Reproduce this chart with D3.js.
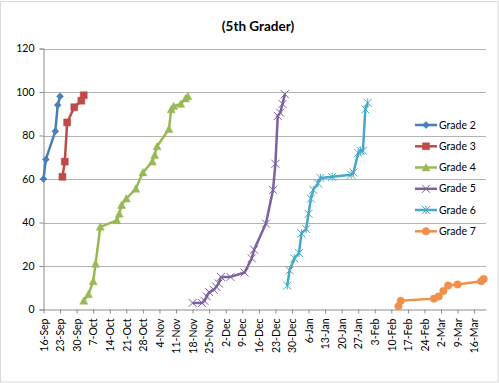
<!DOCTYPE html>
<html>
<head>
<meta charset="utf-8">
<script src="https://cdn.jsdelivr.net/npm/d3@7"></script>
<style>
  html, body { margin: 0; padding: 0; background: #fff; }
  svg { display: block; }
  text { font-family: Lato, "Open Sans", sans-serif; }
</style>
</head>
<body>
<svg id="chart" width="499" height="383"></svg>
<script>
const title = "(5th Grader)";
const seriesNames = ["Grade 2", "Grade 3", "Grade 4", "Grade 5", "Grade 6", "Grade 7"];
const seriesColors = ["#4a7ebb", "#be4b48", "#98b954", "#7d60a0", "#46aac5", "#f0904a"];
const seriesMarkers = ["diamond", "square", "triangle", "x", "star", "circle"];

const grade2Dates = ["2011-09-16","2011-09-17","2011-09-21","2011-09-22","2011-09-23"];
const grade2Values = [60, 69, 82, 94, 98];

const grade3Dates = ["2011-09-24","2011-09-25","2011-09-26","2011-09-29","2011-10-02","2011-10-03"];
const grade3Values = [61, 68, 86, 93, 96, 98.5];

const grade4Dates = ["2011-10-03","2011-10-05","2011-10-07","2011-10-08","2011-10-10","2011-10-17","2011-10-18","2011-10-19","2011-10-21","2011-10-25","2011-10-28","2011-11-01","2011-11-02","2011-11-03","2011-11-08","2011-11-09","2011-11-10","2011-11-13","2011-11-15","2011-11-16"];
const grade4Values = [4, 7, 13, 21, 38, 41, 44, 48, 51, 55.5, 63, 68, 71, 75, 83, 92, 93.5, 94.5, 97, 98];

const grade5Dates = ["2011-11-18","2011-11-22","2011-11-23","2011-11-24","2011-11-25","2011-11-27","2011-11-28","2011-11-29","2011-11-30","2011-12-04","2011-12-10","2011-12-13","2011-12-14","2011-12-19","2011-12-22","2011-12-23","2011-12-24","2011-12-25","2011-12-26","2011-12-27"];
const grade5Values = [3, 3, 4, 6, 8, 9, 10.5, 12, 15, 15, 17, 23.5, 27.5, 39.5, 55, 67, 89, 90.5, 94.5, 99];

const grade6Dates = ["2011-12-28","2011-12-29","2011-12-31","2012-01-02","2012-01-03","2012-01-05","2012-01-06","2012-01-07","2012-01-08","2012-01-10","2012-01-11","2012-01-16","2012-01-24","2012-01-25","2012-01-27","2012-01-28","2012-01-29","2012-01-30","2012-01-31"];
const grade6Values = [11, 18, 23.5, 26, 35, 37, 44, 51, 55, 58, 60.5, 61, 62, 63, 72, 73, 73, 92, 95];

const grade7Dates = ["2012-02-13","2012-02-14","2012-02-28","2012-03-01","2012-03-03","2012-03-05","2012-03-09","2012-03-19","2012-03-20"];
const grade7Values = [1.5, 4, 5, 6, 8.5, 11, 11.5, 13, 14];

const yTicks = [0, 20, 40, 60, 80, 100, 120];
const xTickDates = ["2011-09-16","2011-09-23","2011-09-30","2011-10-07","2011-10-14","2011-10-21","2011-10-28","2011-11-04","2011-11-11","2011-11-18","2011-11-25","2011-12-02","2011-12-09","2011-12-16","2011-12-23","2011-12-30","2012-01-06","2012-01-13","2012-01-20","2012-01-27","2012-02-03","2012-02-10","2012-02-17","2012-02-24","2012-03-02","2012-03-09","2012-03-16"];
const xDomain = ["2011-09-16", "2012-03-21"];

const parse = d3.utcParse("%Y-%m-%d");
const fmt = d3.utcFormat("%-d-%b");

const allDates = [grade2Dates, grade3Dates, grade4Dates, grade5Dates, grade6Dates, grade7Dates];
const allValues = [grade2Values, grade3Values, grade4Values, grade5Values, grade6Values, grade7Values];
const series = seriesNames.map((name, i) => ({
  name, color: seriesColors[i], marker: seriesMarkers[i],
  points: allDates[i].map((d, j) => ({ date: parse(d), value: allValues[i][j] }))
}));

const svg = d3.select("#chart");
const W = 499, H = 383;

// outer border
svg.append("rect").attr("x", 0.5).attr("y", 1.5).attr("width", W - 1.5).attr("height", H - 2.5)
  .attr("fill", "#fff").attr("stroke", "#d9d9d9").attr("stroke-width", 1);

const x = d3.scaleUtc().domain(xDomain.map(parse)).range([43.5, 486]);
const y = d3.scaleLinear().domain([0, 120]).range([309.5, 48.5]);

// gridlines
svg.append("g").selectAll("line").data(yTicks.filter(v => v > 0)).join("line")
  .attr("x1", 43.5).attr("x2", 486)
  .attr("y1", d => Math.round(y(d)) + 0.5).attr("y2", d => Math.round(y(d)) + 0.5)
  .attr("stroke", "#b3b3b3").attr("stroke-width", 1);

// y axis
const yAxis = d3.axisLeft(y).tickValues(yTicks).tickSize(4).tickPadding(5);
const gy = svg.append("g").attr("transform", "translate(43.5,0)").call(yAxis);
gy.select(".domain").attr("stroke", "#8c8c8c");
gy.selectAll(".tick line").attr("stroke", "#8c8c8c");
gy.selectAll(".tick text").attr("font-size", 10.5).attr("fill", "#000")
  .style("font-family", "Lato, sans-serif");

// x axis
const xAxis = d3.axisBottom(x).tickValues(xTickDates.map(parse)).tickFormat(fmt).tickSize(4).tickSizeOuter(0);
const gx = svg.append("g").attr("transform", "translate(0,309.5)").call(xAxis);
gx.select(".domain").attr("stroke", "#8c8c8c");
gx.selectAll(".tick line").attr("stroke", "#8c8c8c");
gx.selectAll(".tick text")
  .attr("font-size", 10.5).attr("fill", "#000")
  .style("font-family", "Lato, sans-serif")
  .attr("text-anchor", "end")
  .attr("transform", "rotate(-90)")
  .attr("x", -9).attr("y", 0).attr("dy", "0.35em");

// markers
function markerPath(type, s) {
  const h = s / 2;
  switch (type) {
    case "diamond": return `M0,${-h}L${h},0L0,${h}L${-h},0Z`;
    case "square": return `M${-h},${-h}H${h}V${h}H${-h}Z`;
    case "triangle": return `M0,${-h}L${h},${h * 0.85}L${-h},${h * 0.85}Z`;
    case "x": return `M${-h},${-h}L${h},${h}M${-h},${h}L${h},${-h}`;
    case "star": return `M${-h},${-h}L${h},${h}M${-h},${h}L${h},${-h}M0,${-h}V${h}`;
    case "circle": return d3.symbol(d3.symbolCircle, s * s * 0.785)();
  }
}
const markerSize = { diamond: 7, square: 7, triangle: 8, x: 8, star: 8, circle: 7.5 };
function drawMarker(g, type, color) {
  const filled = !(type === "x" || type === "star");
  g.append("path").attr("d", markerPath(type, markerSize[type]))
    .attr("fill", filled ? color : "none")
    .attr("stroke", color).attr("stroke-width", filled ? 0.5 : 1);
}

const line = d3.line().x(d => x(d.date)).y(d => y(d.value));
series.forEach(s => {
  const g = svg.append("g");
  g.append("path").datum(s.points).attr("d", line)
    .attr("fill", "none").attr("stroke", s.color).attr("stroke-width", 2.5)
    .attr("stroke-linejoin", "round");
  s.points.forEach(p => {
    const mg = g.append("g").attr("transform", `translate(${x(p.date)},${y(p.value)})`);
    drawMarker(mg, s.marker, s.color);
  });
});

// legend
const legendY = [125, 146.3, 167.5, 188.8, 210, 231.3];
series.forEach((s, i) => {
  const g = svg.append("g").attr("transform", `translate(0,${legendY[i]})`);
  g.append("line").attr("x1", 415).attr("x2", 437).attr("y1", 0).attr("y2", 0)
    .attr("stroke", s.color).attr("stroke-width", 2.5);
  const mg = g.append("g").attr("transform", "translate(426,0)");
  drawMarker(mg, s.marker, s.color);
  g.append("text").attr("x", 439).attr("y", 0).attr("dy", "0.35em")
    .attr("font-size", 10.5).attr("fill", "#000").text(s.name);
});

// title
svg.append("text").attr("x", 258).attr("y", 31).attr("text-anchor", "middle")
  .attr("font-size", 13.5).attr("font-weight", "bold").attr("fill", "#000").text(title);
</script>
</body>
</html>
